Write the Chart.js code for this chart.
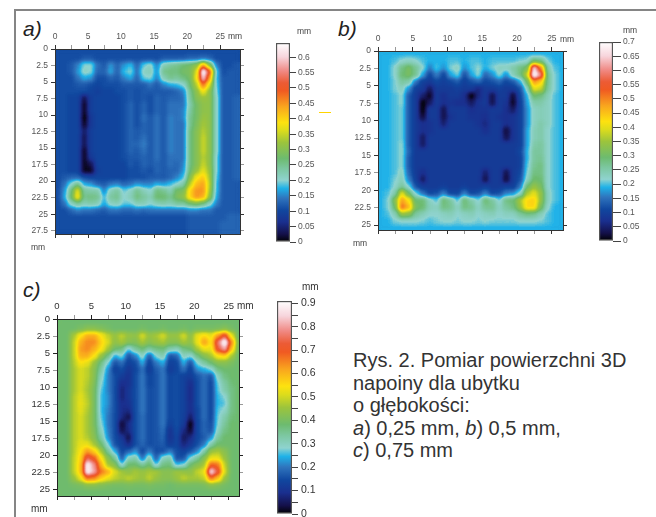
<!DOCTYPE html>
<html>
<head>
<meta charset="utf-8">
<title>Rys. 2</title>
<script src="https://cdn.jsdelivr.net/npm/chart.js@4/dist/chart.umd.min.js"></script>
<style>
    html, body {margin: 0; padding: 0; background: #fff; overflow: hidden;}
    body {position: relative; width: 656px; height: 517px; font-family: "Liberation Sans", Arial, sans-serif;}
    canvas {position: absolute;}
    .soft {filter: blur(0.55px);}
    .txt {position: absolute; white-space: nowrap; color: #444;}
    .mm {font-size: 8.5px; filter: blur(0.3px);}
    .panel {font-size: 21px; font-style: italic; color: #222;}
    #caption {position: absolute; left: 353px; top: 349px; font-size: 20px; line-height: 22.5px; color: #333; white-space: nowrap;}
    #frameTop {position: absolute; left: 14px; top: 9px; width: 642px; height: 2px; background: #858585;}
    #frameLeft {position: absolute; left: 14px; top: 9px; width: 2px; height: 508px; background: #858585;}
    #yellowMark {position: absolute; left: 319px; top: 112px; width: 12px; height: 1px; background: #ffd400;}
</style>
</head>
<body>
<div id="frameTop"></div>
<div id="frameLeft"></div>
<div id="yellowMark"></div>

<div class="txt panel" style="left:23px;top:17px">a)</div>
<div class="txt panel" style="left:338px;top:17px">b)</div>
<div class="txt panel" style="left:23px;top:278px">c)</div>

<div class="txt mm" style="left:228px;top:31px">mm</div>
<div class="txt mm" style="left:297px;top:26px">mm</div>
<div class="txt mm" style="left:31px;top:242px">mm</div>
<div class="txt mm" style="left:560px;top:34px">mm</div>
<div class="txt mm" style="left:623px;top:25px">mm</div>
<div class="txt mm" style="left:353px;top:238px">mm</div>
<div class="txt mm" style="left:237px;top:300px;font-size:10px;color:#333">mm</div>
<div class="txt mm" style="left:302px;top:281px;font-size:10px;color:#333">mm</div>
<div class="txt mm" style="left:31px;top:503px;font-size:10px;color:#333">mm</div>

<div id="caption">Rys. 2. Pomiar powierzchni 3D<br>napoiny dla ubytku<br>o głębokości:<br><i>a</i>) 0,25 mm, <i>b</i>) 0,5 mm,<br><i>c</i>) 0,75 mm</div>

<script>
// --  values, hundredths of a mm, one row per mm of depth  --
const rowsA = [
    [11,11,11,11,11,11,11,11,11,11,11,11,11,11,11,11,11,11,11,11,11,11,11,11,11,11,11,11],
    [11,11,11,11,12,12,11,11,11,11,11,11,11,11,11,11,12,12,12,12,13,13,14,13,11,11,11,11],
    [11,11,12,15,20,20,14,12,16,13,16,18,13,19,21,15,22,24,25,27,28,31,44,30,15,11,11,12],
    [11,11,12,16,21,20,13,13,17,13,18,20,14,21,22,16,25,26,26,28,29,36,68,50,19,11,12,12],
    [11,11,11,14,17,16,11,11,13,12,15,17,13,19,20,15,22,25,24,26,28,38,60,44,18,12,12,12],
    [11,11,11,12,12,11,10,11,11,11,12,12,12,12,14,12,15,17,18,20,27,34,48,36,19,12,12,12],
    [11,11,11,11,11,10,9,10,10,11,11,12,11,12,12,12,12,12,13,15,25,31,38,31,20,12,12,12],
    [11,11,10,10,3,9,10,10,10,10,11,12,11,12,11,13,12,13,13,14,24,30,32,31,21,12,12,13],
    [11,11,10,10,1,9,10,10,10,10,11,13,11,13,11,13,12,14,14,14,23,28,31,31,21,12,12,13],
    [11,11,10,10,1,9,10,10,10,10,11,13,11,13,11,13,12,14,14,15,24,28,31,31,21,12,12,13],
    [11,11,10,10,0,8,10,10,10,10,11,13,11,14,12,14,12,15,14,15,25,28,32,31,21,12,12,13],
    [11,11,10,10,1,8,10,10,10,10,11,13,11,13,12,14,12,15,14,14,25,29,33,31,21,12,12,13],
    [11,11,10,10,4,9,10,10,10,10,11,13,12,13,12,14,12,15,14,14,26,30,34,31,21,12,12,13],
    [11,11,10,10,3,9,10,10,10,10,11,13,12,14,12,14,12,15,14,14,26,30,35,31,21,12,12,13],
    [11,11,10,10,3,9,10,10,10,10,11,13,13,15,12,14,12,15,14,14,26,30,35,31,21,12,12,13],
    [11,11,10,10,1,9,10,10,10,10,11,13,12,14,12,14,12,15,14,14,26,30,35,31,21,12,12,13],
    [11,11,10,10,1,8,10,10,10,10,11,12,12,13,12,14,12,14,14,14,26,30,34,31,20,12,12,13],
    [11,11,10,10,1,3,10,10,10,10,10,12,11,13,12,13,12,14,13,15,26,30,35,31,20,12,12,13],
    [11,11,10,10,1,1,9,10,10,10,10,11,11,12,11,13,12,13,13,16,27,32,37,32,20,12,12,13],
    [11,12,13,13,11,10,10,10,10,10,10,11,11,11,12,12,12,13,15,18,30,38,41,33,19,12,12,13],
    [11,14,20,25,17,16,13,12,14,15,13,14,16,15,15,17,16,18,20,23,34,42,44,34,18,12,12,12],
    [11,16,26,37,24,23,23,15,22,24,19,21,25,22,20,26,25,22,28,29,40,45,45,33,18,12,12,12],
    [11,17,27,39,25,26,25,18,24,25,20,22,26,24,22,27,27,25,29,31,40,45,43,31,17,12,12,12],
    [11,14,21,24,22,23,22,17,21,22,19,19,22,22,20,22,23,22,24,24,27,29,26,21,15,12,12,12],
    [11,11,13,15,14,14,13,12,14,14,13,13,14,13,14,14,14,14,14,14,15,15,14,14,12,12,12,12],
    [11,11,11,11,11,11,11,11,11,11,11,11,11,11,11,11,11,11,11,11,12,12,12,12,12,12,13,13],
    [11,11,11,11,11,11,11,11,11,11,11,11,11,11,11,11,11,11,11,11,12,12,12,12,12,13,13,13],
    [11,11,11,11,11,11,11,11,11,11,11,11,11,11,11,11,11,11,11,11,12,12,12,12,12,13,13,13]
]

const rowsB = [
    [19,19,19,19,19,19,19,19,19,19,19,19,19,19,19,19,19,19,19,19,19,19,19,19,19,19,19],
    [19,19,20,22,23,22,20,19,19,19,20,20,19,20,20,19,20,20,20,20,21,22,30,28,21,19,19],
    [19,19,22,28,31,27,22,16,20,17,21,23,17,20,22,19,21,23,23,25,28,31,66,50,25,20,19],
    [19,19,22,29,31,27,18,11,16,11,18,21,12,18,22,14,17,22,17,24,28,38,70,60,27,21,19],
    [19,19,21,26,25,15,10,9,11,10,11,13,10,12,14,11,12,14,11,13,18,30,48,44,27,21,19],
    [19,19,21,23,17,10,9,4,9,9,9,10,9,9,6,9,9,10,9,9,12,23,40,38,26,21,19],
    [19,19,20,22,13,9,5,1,9,7,9,9,7,0,6,9,3,9,9,2,11,19,30,28,24,20,19],
    [19,19,20,22,13,9,0,4,9,7,8,7,7,4,8,9,3,9,8,1,10,18,25,25,23,20,19],
    [19,19,20,21,13,9,0,9,9,3,9,9,9,7,8,8,9,9,7,4,10,17,23,24,23,20,19],
    [19,19,20,21,13,9,2,9,9,3,8,9,9,8,8,7,9,8,7,8,10,17,23,24,23,20,19],
    [19,19,20,21,13,9,7,8,9,5,9,9,9,9,8,6,9,9,7,8,10,17,23,25,23,20,19],
    [19,19,20,21,13,9,7,8,9,9,9,9,9,9,9,7,9,9,2,8,10,18,24,25,22,20,19],
    [19,19,20,21,13,9,4,9,9,9,9,9,9,9,9,9,9,9,3,8,10,18,24,25,22,20,19],
    [19,19,20,22,13,9,4,9,9,9,9,9,9,9,9,9,9,9,9,9,10,18,25,26,22,20,19],
    [19,19,20,22,14,9,9,9,9,9,9,9,9,9,9,9,9,9,9,9,11,19,26,26,22,20,19],
    [19,19,20,22,13,9,9,9,9,9,9,9,9,9,9,9,9,9,9,9,10,19,26,27,22,20,19],
    [19,19,20,22,13,9,9,9,9,9,9,9,9,9,9,9,9,9,9,9,10,20,27,28,22,20,19],
    [19,19,20,23,14,9,7,9,9,9,9,9,9,9,9,5,9,9,3,9,11,21,28,28,22,20,19],
    [19,19,21,24,16,10,4,9,9,9,9,9,9,9,9,3,9,9,2,9,12,23,30,29,22,20,19],
    [19,19,22,26,21,12,9,9,9,10,9,9,10,9,9,10,9,9,10,10,15,29,34,31,22,20,19],
    [19,20,25,40,30,21,15,11,12,16,11,11,16,11,12,16,11,12,16,17,22,36,40,34,23,20,19],
    [19,21,33,48,42,29,29,23,20,29,26,20,29,25,21,29,26,21,28,29,36,43,44,34,23,20,19],
    [19,21,30,52,46,31,29,24,23,28,27,23,28,27,23,27,27,23,26,28,34,43,43,31,22,19,19],
    [19,20,24,34,33,26,24,22,22,23,24,22,23,24,22,23,24,22,23,23,26,28,27,24,20,19,19],
    [19,19,21,22,22,22,21,20,21,22,22,21,22,22,21,22,21,21,21,21,22,22,22,21,20,19,19],
    [19,19,19,19,19,19,19,19,19,19,19,19,19,19,19,19,19,19,19,19,19,19,19,19,19,19,19]
]

const rowsC = [
    [38,38,38,38,38,38,38,38,38,38,38,38,38,38,38,38,38,38,38,38,38,38,38,38,38,38,38],
    [38,38,38,40,42,42,41,39,38,38,38,38,39,38,38,39,38,38,39,38,39,39,39,40,42,39,38],
    [38,38,46,54,60,60,54,48,44,48,44,43,50,44,46,50,44,44,50,43,52,55,52,62,72,52,38],
    [38,38,48,60,64,64,56,50,43,46,42,41,46,42,44,46,42,42,46,43,52,62,54,76,90,64,40],
    [38,38,48,62,64,60,54,46,38,36,26,34,37,33,36,37,32,30,36,38,46,52,52,72,80,58,39],
    [38,38,48,60,60,54,44,36,24,28,16,21,30,17,28,32,16,18,30,28,36,42,46,54,56,46,38],
    [38,38,47,54,52,44,36,27,16,19,13,15,24,13,20,24,13,14,24,16,28,33,38,42,42,40,38],
    [38,38,46,50,48,42,33,22,13,15,11,14,19,12,17,20,12,14,19,13,22,24,27,36,38,38,38],
    [38,38,46,50,48,42,30,21,15,12,10,15,20,14,16,20,14,15,13,12,16,19,16,30,36,38,38],
    [38,38,46,50,47,41,28,21,15,9,10,15,20,14,16,20,14,15,13,9,15,19,14,27,33,37,38],
    [38,38,46,50,46,40,26,21,15,7,11,15,20,15,16,20,14,15,13,8,15,19,14,26,32,36,38],
    [38,38,47,51,47,40,25,22,15,7,11,15,20,15,16,20,14,15,13,8,15,19,14,25,28,36,38],
    [38,38,47,52,48,40,25,22,15,9,10,15,20,15,16,20,14,15,13,9,15,19,14,25,26,36,38],
    [38,38,47,51,47,40,25,21,15,9,8,15,20,15,16,20,14,15,13,9,14,19,14,26,29,36,38],
    [38,38,47,50,46,40,26,20,15,8,4,15,19,15,16,20,14,15,13,6,14,19,14,27,32,37,38],
    [38,38,47,50,46,40,28,20,15,2,9,15,19,15,16,20,13,15,12,0,14,18,15,28,34,38,38],
    [38,38,47,50,46,41,30,21,15,4,8,15,19,15,16,19,10,15,8,2,14,18,16,30,36,38,38],
    [38,38,47,50,47,42,33,22,15,11,4,15,19,15,16,18,10,14,5,8,14,17,22,34,38,38,38],
    [38,38,47,52,52,46,38,27,16,13,8,15,18,15,16,17,12,14,7,11,15,20,32,38,38,38,38],
    [38,38,47,54,62,56,46,34,24,14,18,22,14,20,15,15,20,15,13,16,21,32,44,46,42,38,38],
    [38,38,48,56,74,68,54,42,34,17,30,32,19,32,17,30,32,15,16,28,34,42,52,52,44,38,38],
    [38,38,48,58,88,78,60,46,42,27,38,38,34,38,26,36,37,25,28,38,42,46,68,66,48,38,38],
    [38,38,48,58,88,80,66,60,50,46,43,46,44,46,46,42,42,45,44,43,48,52,86,72,50,38,38],
    [38,38,44,52,66,64,56,52,48,46,48,46,44,48,44,42,42,44,48,46,46,48,66,58,44,38,38],
    [38,38,39,40,42,42,41,40,39,39,40,39,39,40,39,39,38,39,39,39,39,40,42,41,39,38,38],
    [38,38,38,38,38,38,38,38,38,38,38,38,38,38,38,38,38,38,38,38,38,38,38,38,38,38,38]
]

// tick labels
const mmTicksX = [0, 2.5, 5, 7.5, 10, 12.5, 15, 17.5, 20, 22.5, 25]
const mmTicksYA = [0, 2.5, 5, 7.5, 10, 12.5, 15, 17.5, 20, 22.5, 25, 27.5]
const mmTicksY = [0, 2.5, 5, 7.5, 10, 12.5, 15, 17.5, 20, 22.5, 25]
const barTicksA = [0, 0.05, 0.1, 0.15, 0.2, 0.25, 0.3, 0.35, 0.4, 0.45, 0.5, 0.55, 0.6]
const barTicksB = [0, 0.05, 0.1, 0.15, 0.2, 0.25, 0.3, 0.35, 0.4, 0.45, 0.5, 0.55, 0.6, 0.65, 0.7]
const barTicksC = [0, 0.05, 0.1, 0.15, 0.2, 0.25, 0.3, 0.35, 0.4, 0.45, 0.5, 0.55, 0.6, 0.65, 0.7, 0.75, 0.8, 0.85, 0.9]
const barLabelsC = [0, 0.1, 0.2, 0.3, 0.4, 0.5, 0.6, 0.7, 0.8, 0.9]

// colour scale, position on the bar (0 - 1) and colour
const scalePos = [0, 0.04, 0.1, 0.16, 0.22, 0.27, 0.31, 0.37, 0.42, 0.5, 0.56, 0.6, 0.68, 0.76, 0.8, 0.86, 0.93, 1]
const scaleCol = ['#000000', '#14104a', '#1a2f8e', '#10479f', '#2f74bd', '#1fb2e8', '#8fd3cf', '#7cc7a0', '#6dbb6f', '#9cc43c', '#dcdc1c', '#fde20f', '#f9a51e', '#f05a22', '#ec5b35', '#f08a85', '#f7d5dc', '#ffffff']


function hexToRgb (hex) {
    return [1, 3, 5].map(i => parseInt(hex.substr(i, 2), 16))
}

function colorFor (t) {
    //finds the two stops around t and mixes them, returns [r, g, b]
    t = Math.min(1, Math.max(0, t))
    let i = 0
    while (i < scalePos.length - 2 && t > scalePos[i + 1]) i++
    const f = (t - scalePos[i]) / (scalePos[i + 1] - scalePos[i])
    const a = hexToRgb(scaleCol[i])
    const b = hexToRgb(scaleCol[i + 1])
    return a.map((v, k) => Math.round(v + (b[k] - v) * f))
}

function makeCanvas (left, top, width, height, soft) {
    const canvas = document.createElement('canvas')
    canvas.width = width
    canvas.height = height
    canvas.style.left = left + 'px'
    canvas.style.top = top + 'px'
    canvas.style.width = width + 'px'
    canvas.style.height = height + 'px'
    if (soft) canvas.className = 'soft'
    document.body.appendChild(canvas)
    return canvas
}

function fixedSize (prop, size) {
    //chart.js would move the plot to make room for labels, here the size is locked
    return scale => {
        scale[prop] = size
        scale.paddingLeft = 0
        scale.paddingRight = 0
        scale.paddingTop = 0
        scale.paddingBottom = 0
    }
}

// the cells are first drawn as grey levels, those get blurred and then every pixel
// is looked up in the colour scale, that way the colour bands follow each other like on the bar
const smoothCells = {
    id: 'smoothCells',
    afterDatasetsDraw (chart, args, opts) {
        const a = chart.chartArea
        const w = Math.round(a.right - a.left)
        const h = Math.round(a.bottom - a.top)
        const off = document.createElement('canvas')
        off.width = w
        off.height = h
        off.getContext('2d').drawImage(chart.canvas, a.left, a.top, w, h, 0, 0, w, h)
        const ctx = chart.ctx
        ctx.save()
        ctx.beginPath()
        ctx.rect(a.left, a.top, w, h)
        ctx.clip()
        ctx.filter = 'blur(' + opts.radius + 'px)'
        ctx.drawImage(off, a.left, a.top)
        ctx.restore()

        const lut = []
        for (let i = 0; i < 256; i++) lut.push(colorFor(i / 255))
        const img = ctx.getImageData(a.left, a.top, w, h)
        for (let i = 0; i < img.data.length; i += 4) {
            const c = lut[img.data[i]]
            img.data[i] = c[0]
            img.data[i + 1] = c[1]
            img.data[i + 2] = c[2]
            img.data[i + 3] = 255
        }
        ctx.putImageData(img, a.left, a.top)
    }
}

function drawHeatmap (p) {
    const cells = []
    p.rows.forEach((row, y) => row.forEach((v, x) => cells.push({x: x + 0.5, y: y + 0.5, v: v})))

    const pad = {left: 45, top: 20, right: 10, bottom: 10}
    const canvas = makeCanvas(p.left - pad.left, p.top - pad.top, p.width + pad.left + pad.right, p.height + pad.top + pad.bottom, p.soft)

    const tickColor = ctx => (ctx.tick && ctx.tick.value % 5 === 0) ? p.ink : '#999'
    const axis = (position, min, max, tickList, size, showLabels, cb) => ({
        position: position,
        min: min,
        max: max,
        afterBuildTicks: s => { s.ticks = tickList.map(v => ({value: v})) },
        afterFit: fixedSize(position === 'top' || position === 'bottom' ? 'height' : 'width', size),
        border: {color: p.ink, width: 1, z: 1},
        grid: {drawOnChartArea: false, tickLength: 4, tickColor: tickColor},
        ticks: {
            display: showLabels,
            autoSkip: false,
            maxRotation: 0,
            padding: p.tickPad,
            color: p.text,
            font: {family: '"Liberation Sans"', size: p.fontSize},
            callback: cb
        }
    })

    new Chart(canvas.getContext('2d', {willReadFrequently: true}), {
        type: 'scatter',
        data: {
            datasets: [{
                data: cells,
                pointStyle: 'rect',
                borderWidth: 0,
                pointBorderWidth: 0,
                pointRadius: ctx => {
                    const s = ctx.chart.scales.x
                    return (s.getPixelForValue(1) - s.getPixelForValue(0) + 1) / Math.SQRT2
                },
                pointBackgroundColor: ctx => {
                    const g = Math.round(Math.min(1, ctx.raw.v / 100 / p.scaleMax) * 255)
                    return 'rgb(' + g + ',' + g + ',' + g + ')'
                }
            }]
        },
        options: {
            responsive: false,
            animation: false,
            events: [],
            layout: {padding: 0},
            plugins: {
                legend: {display: false},
                tooltip: {enabled: false},
                smoothCells: {radius: p.blur}
            },
            scales: {
                x: axis('top', 0, p.xMax, mmTicksX, pad.top, true, v => v % 5 === 0 ? v : ''),
                y: Object.assign(axis('left', 0, p.yMax, p.yTicks, pad.left, true, v => v), {reverse: true}),
                x2: Object.assign(axis('bottom', 0, p.xMax, mmTicksX, pad.bottom, false), {axis: 'x'}),
                y2: Object.assign(axis('right', 0, p.yMax, p.yTicks, pad.right, false), {axis: 'y', reverse: true})
            }
        },
        plugins: [smoothCells]
    })
}

function drawColorBar (p) {
    const pad = {top: 7, bottom: 7, right: 46}
    const canvas = makeCanvas(p.left, p.top - pad.top, p.width + pad.right, p.height + pad.top + pad.bottom, p.soft)

    new Chart(canvas.getContext('2d'), {
        type: 'bar',
        data: {
            labels: [''],
            datasets: [{
                data: [[0, p.scaleMax]],
                barPercentage: 1,
                categoryPercentage: 1,
                borderWidth: 1.5,
                borderColor: '#555',
                borderSkipped: false,
                backgroundColor: ctx => {
                    const area = ctx.chart.chartArea
                    if (!area) return '#000'
                    const grad = ctx.chart.ctx.createLinearGradient(0, area.bottom, 0, area.top)
                    scalePos.forEach((pos, i) => grad.addColorStop(pos, scaleCol[i]))
                    return grad
                }
            }]
        },
        options: {
            responsive: false,
            animation: false,
            events: [],
            layout: {padding: {top: pad.top, bottom: pad.bottom}},
            plugins: {legend: {display: false}, tooltip: {enabled: false}},
            scales: {
                x: {display: false},
                y: {
                    position: 'right',
                    min: 0,
                    max: p.scaleMax,
                    afterBuildTicks: s => { s.ticks = p.ticks.map(v => ({value: v})) },
                    afterFit: fixedSize('width', pad.right),
                    border: {display: false},
                    grid: {drawOnChartArea: false, tickLength: p.tickLen, tickColor: '#444'},
                    ticks: {
                        autoSkip: false,
                        padding: p.tickPad,
                        color: p.text,
                        font: {family: '"Liberation Sans"', size: p.fontSize},
                        callback: p.label
                    }
                }
            }
        },
    })
}


//panel a
drawHeatmap({rows: rowsA, left: 55, top: 49, width: 185, height: 185, xMax: 28, yMax: 28, yTicks: mmTicksYA,
    scaleMax: 0.646, blur: 2.2, fontSize: 8.5, tickPad: 3, ink: '#333', text: '#555', soft: true})
drawColorBar({left: 276, top: 43, width: 14, height: 199, scaleMax: 0.646, ticks: barTicksA,
    tickLen: 6, tickPad: 2, fontSize: 8.5, text: '#555', soft: true, label: v => v})

//panel b
drawHeatmap({rows: rowsB, left: 378, top: 51, width: 185, height: 179, xMax: 26.6, yMax: 25.7, yTicks: mmTicksY,
    scaleMax: 0.7, blur: 2.2, fontSize: 8.5, tickPad: 3, ink: '#333', text: '#555', soft: true})
drawColorBar({left: 599, top: 42, width: 14, height: 199, scaleMax: 0.7, ticks: barTicksB,
    tickLen: 8, tickPad: 2, fontSize: 8.5, text: '#555', soft: true, label: v => v})

//panel c
drawHeatmap({rows: rowsC, left: 57, top: 319, width: 182, height: 177, xMax: 26.5, yMax: 26, yTicks: mmTicksY,
    scaleMax: 0.9, blur: 2.2, fontSize: 9.5, tickPad: 3, ink: '#222', text: '#333', soft: false})
drawColorBar({left: 277, top: 301, width: 15, height: 213, scaleMax: 0.91, ticks: barTicksC,
    tickLen: 6, tickPad: 3, fontSize: 10.5, text: '#333', soft: false, label: v => barLabelsC.includes(v) ? v : ''})
</script>
</body>
</html>
